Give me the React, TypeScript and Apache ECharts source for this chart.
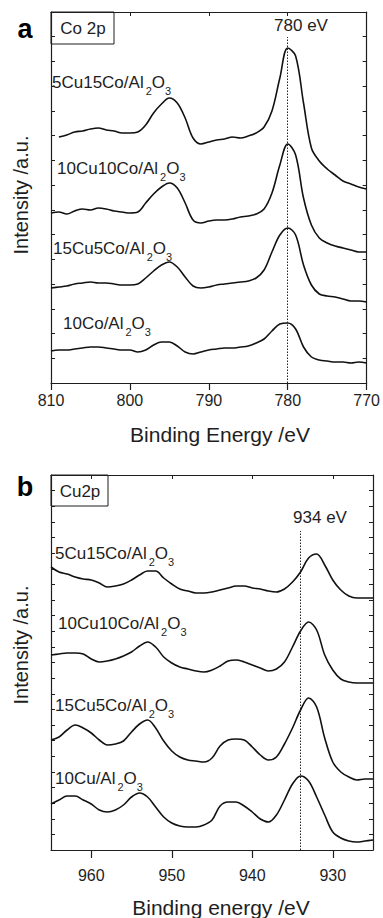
import React, { useEffect, useRef } from "react";
import * as echarts from "echarts";

// Co 2p region (binding energy, eV)
const coEnergy = [
  810, 809, 808, 807, 806, 805, 804, 803, 802, 801, 800, 799, 798, 797, 796, 795, 794, 793, 792, 791,
  790, 789, 788, 787, 786, 785, 784, 783, 782, 781, 780, 779, 778, 777, 776, 775, 774, 773, 772, 771, 770,
];
const co5Cu15Co = [
  null, 246, 248, 251, 252, 254, 255, 253, 252, 250, 250, 251, 258, 270, 279, 285, 280, 265, 245, 239,
  241, 243, 244, 246, 245, 247, 250, 256, 272, 305, 335, 327, 280, 235, 222, 214, 208, 202, 199, 196, 194,
];
const co10Cu10Co = [
  170, 171, 169, 172, 174, 173, 175, 174, 172, 171, 170, 171, 180, 189, 196, 200, 195, 180, 163, 160,
  162, 163, 163, 164, 166, 167, 169, 174, 190, 218, 239, 228, 185, 158, 145, 140, 137, 135, 133, 131, 131,
];
const co15Cu5Co = [
  95, 96, 97, 99, 100, 101, 100, 100, 99, 98, 98, 99, 105, 112, 118, 121, 116, 106, 97, 95,
  96, 98, 99, 100, 101, 102, 105, 113, 131, 148, 155, 148, 118, 98, 89, 87, 86, 84, 82, 82, 81,
];
const co10Co = [
  32, 33, 33, 34, 35, 36, 36, 35, 34, 33, 33, 31, 33, 38, 41, 41, 37, 31, 29, 31,
  33, 34, 35, 35, 36, 37, 40, 44, 52, 59, 60, 54, 36, 26, 23, 22, 21, 21, 20, 21, 20,
];

// Cu 2p region (binding energy, eV)
const cuEnergy = [
  965, 964, 963, 962, 961, 960, 959, 958, 957, 956, 955, 954, 953, 952, 951, 950, 949, 948, 947, 946,
  945, 944, 943, 942, 941, 940, 939, 938, 937, 936, 935, 934, 933, 932, 931, 930, 929, 928, 927, 926, 925,
];
const cu5Cu15Co = [
  283, 278, 276, 273, 271, 270, 267, 263, 264, 266, 270, 275, 279, 279, 272, 266, 261, 259, 257, 257,
  258, 260, 262, 264, 264, 262, 261, 259, 258, 261, 268, 278, 292, 296, 285, 270, 260, 254, 252, 252, 252,
];
const cu10Cu10Co = [
  195, 196, 197, 197, 196, 191, 188, 189, 191, 194, 198, 204, 208, 203, 193, 187, 183, 181, 179, 178,
  180, 184, 189, 190, 188, 185, 182, 179, 181, 188, 203, 219, 228, 220, 195, 180, 171, 168, 167, 167, 167,
];
const cu15Cu5Co = [
  110, 113, 120, 125, 122, 117, 110, 105, 106, 109, 118, 126, 130, 122, 109, 99, 93, 90, 89, 88,
  92, 104, 110, 111, 110, 103, 95, 90, 93, 106, 122, 140, 152, 143, 112, 88, 78, 73, 70, 71, 71,
];
const cu10Cu = [
  46, 50, 54, 54, 50, 46, 40, 38, 40, 45, 53, 57, 53, 43, 33, 27, 24, 23, 23, 25,
  30, 44, 48, 48, 44, 38, 31, 28, 35, 50, 66, 74, 69, 53, 35, 18, 12, 9, 8, 9, 10,
];

const coTicks = [770, 780, 790, 800, 810];
const cuTicks = [930, 940, 950, 960];
const coRefLine = 780;
const cuRefLine = 934;

const coLabels = [
  ["5Cu15Co/Al", "2", "O", "3"],
  ["10Cu10Co/Al", "2", "O", "3"],
  ["15Cu5Co/Al", "2", "O", "3"],
  ["10Co/Al", "2", "O", "3"],
];
const cuLabels = [
  ["5Cu15Co/Al", "2", "O", "3"],
  ["10Cu10Co/Al", "2", "O", "3"],
  ["15Cu5Co/Al", "2", "O", "3"],
  ["10Cu/Al", "2", "O", "3"],
];

const FONT = "'Liberation Sans', Arial, Helvetica, sans-serif";
const INK = "#1e1e1e";

const pairs = (xs: number[], ys: (number | null)[]) => xs.map((x, i) => [x, ys[i]]);

const lineSeries = (data: any[], axis: number, extra: any = {}) => ({
  type: "line",
  xAxisIndex: axis,
  yAxisIndex: axis,
  data,
  showSymbol: false,
  smooth: 0.35,
  silent: true,
  lineStyle: { color: "#111", width: 1.6 },
  ...extra,
});

const refLine = (x: number, top: number) => ({
  markLine: {
    silent: true,
    symbol: "none",
    label: { show: false },
    lineStyle: { color: "#222", width: 1, type: [1.5, 1.5] },
    data: [[{ coord: [x, 0] }, { coord: [x, top] }]],
  },
});

const xAxisPair = (grid: number, min: number, max: number, ticks: number[], tickLen: number, margin: number) => [
  {
    gridIndex: grid,
    type: "value",
    min,
    max,
    inverse: true,
    position: "bottom",
    axisLine: { onZero: false, lineStyle: { color: INK, width: 1.2 } },
    axisTick: { inside: false, length: tickLen, customValues: ticks, lineStyle: { color: INK, width: 1.2 } },
    axisLabel: { customValues: ticks, fontSize: 16, color: INK, fontFamily: FONT, margin },
    splitLine: { show: false },
  },
  {
    gridIndex: grid,
    type: "value",
    min,
    max,
    inverse: true,
    position: "top",
    axisLine: { onZero: false, lineStyle: { color: INK, width: 1.2 } },
    axisTick: { inside: true, length: 4, customValues: ticks, lineStyle: { color: INK } },
    axisLabel: { show: false },
    splitLine: { show: false },
  },
];

const yAxisPair = (grid: number, max: number, steps: number) => [
  {
    gridIndex: grid,
    type: "value",
    min: 0,
    max,
    interval: max / steps,
    position: "left",
    axisLine: { show: true, onZero: false, lineStyle: { color: INK, width: 1.2 } },
    axisTick: { show: true, inside: true, length: 4, lineStyle: { color: INK } },
    axisLabel: { show: false },
    splitLine: { show: false },
  },
  {
    gridIndex: grid,
    type: "value",
    min: 0,
    max,
    interval: max / steps,
    position: "right",
    axisLine: { show: true, onZero: false, lineStyle: { color: INK, width: 1.2 } },
    axisTick: { show: true, inside: true, length: 4, lineStyle: { color: INK } },
    axisLabel: { show: false },
    splitLine: { show: false },
  },
];

// Sample name with subscripted formula digits
const richLabel = (parts: string[], x: number, y: number) => ({
  type: "text",
  x,
  y,
  silent: true,
  style: {
    text: `{m|${parts[0]}}{s1|${parts[1]}}{m|${parts[2]}}{s|${parts[3]}}`,
    textAlign: "left",
    textVerticalAlign: "middle",
    fill: INK,
    rich: {
      m: { fontSize: 17, fontFamily: FONT, color: INK, lineHeight: 28, verticalAlign: "middle" },
      s1: { fontSize: 11, fontFamily: FONT, color: INK, verticalAlign: "bottom", padding: [0, 0, 0, 2] },
      s: { fontSize: 11, fontFamily: FONT, color: INK, verticalAlign: "bottom" },
    },
  },
});

const plainText = (text: string, x: number, y: number, fontSize: number, extra: any = {}) => ({
  type: "text",
  x,
  y,
  silent: true,
  ...extra,
  style: {
    text,
    fontSize,
    fontFamily: FONT,
    fill: INK,
    textAlign: "center",
    textVerticalAlign: "middle",
    ...(extra.style || {}),
  },
});

export default function App() {
  const ref = useRef<HTMLDivElement>(null);

  useEffect(() => {
    if (!ref.current) return;
    const chart = echarts.init(ref.current, undefined, { renderer: "svg" });

    const coLabelPos = [
      [52, 82],
      [57, 168],
      [53, 248],
      [63, 323],
    ];
    const cuLabelPos = [
      [55, 553],
      [58, 623],
      [55, 705],
      [55, 778],
    ];

    chart.setOption({
      animation: false,
      backgroundColor: "#fff",
      grid: [
        { left: 51, top: 12, width: 319, height: 371 },
        { left: 51, top: 475, width: 322, height: 375 },
      ],
      xAxis: [...xAxisPair(0, 770, 810, coTicks, 7, 9), ...xAxisPair(1, 925, 965, cuTicks, 8, 17)],
      yAxis: [...yAxisPair(0, 371, 15), ...yAxisPair(1, 375, 24)],
      series: [
        lineSeries(pairs(coEnergy, co5Cu15Co), 0, refLine(coRefLine, 346)),
        lineSeries(pairs(coEnergy, co10Cu10Co), 0),
        lineSeries(pairs(coEnergy, co15Cu5Co), 0),
        lineSeries(pairs(coEnergy, co10Co), 0),
        lineSeries(pairs(cuEnergy, cu5Cu15Co), 2, refLine(cuRefLine, 319)),
        lineSeries(pairs(cuEnergy, cu10Cu10Co), 2),
        lineSeries(pairs(cuEnergy, cu15Cu5Co), 2),
        lineSeries(pairs(cuEnergy, cu10Cu), 2),
      ],
      graphic: [
        plainText("a", 25, 29, 27, { style: { fontWeight: "bold", fill: "#000" } }),
        {
          type: "rect",
          silent: true,
          shape: { x: 51, y: 12, width: 63, height: 32 },
          style: { fill: "#fff", stroke: INK, lineWidth: 1 },
        },
        plainText("Co 2p", 83, 28, 17),
        plainText(`${coRefLine} eV`, 301, 25, 17),
        ...coLabels.map((p, i) => richLabel(p, coLabelPos[i][0], coLabelPos[i][1])),
        plainText("Intensity /a.u.", 21, 195, 20, { rotation: Math.PI / 2 }),
        plainText("Binding Energy /eV", 220, 434, 21),

        plainText("b", 25, 487, 27, { style: { fontWeight: "bold", fill: "#000" } }),
        {
          type: "rect",
          silent: true,
          shape: { x: 51, y: 475, width: 57, height: 31 },
          style: { fill: "#fff", stroke: INK, lineWidth: 1 },
        },
        plainText("Cu2p", 80, 491, 17),
        plainText(`${cuRefLine} eV`, 320, 517, 17),
        ...cuLabels.map((p, i) => richLabel(p, cuLabelPos[i][0], cuLabelPos[i][1])),
        plainText("Intensity /a.u.", 21, 645, 20, { rotation: Math.PI / 2 }),
        plainText("Binding energy /eV", 221, 907, 21),
      ],
    });

    return () => chart.dispose();
  }, []);

  return (
    <div
      ref={ref}
      style={{ position: "fixed", left: 0, top: 0, width: 383, height: 918, background: "#fff" }}
    />
  );
}
